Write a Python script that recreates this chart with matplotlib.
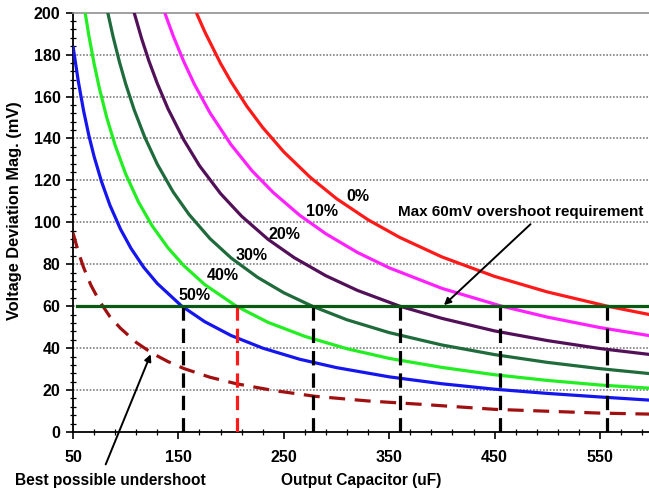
import numpy as np
import matplotlib
matplotlib.use('Agg')
import matplotlib.pyplot as plt
from matplotlib.ticker import MultipleLocator, FixedLocator

plt.rcParams['font.family'] = ['Liberation Sans', 'DejaVu Sans']
plt.rcParams['font.weight'] = 'bold'

# =================================================================
# ข้อมูลที่อ่านจากกราฟ (Output capacitor uF -> deviation mV)
# =================================================================
c_0 = [167, 175, 190, 200, 215, 230, 250, 275, 300, 330, 360, 400, 450, 500, 557, 600]
v_0 = [200, 190.9, 175.8, 167, 155.3, 145.2, 133.6, 121.5, 111.3, 101.2, 92.8, 83.5, 74.2, 66.8, 60.0, 55.7]

c_10 = [137, 145, 155, 165, 180, 200, 220, 240, 265, 290, 320, 350, 400, 456, 500, 550, 600]
v_10 = [200, 189, 176.8, 166, 152.2, 137, 124.5, 114.2, 103.4, 94.5, 85.6, 78.3, 68.5, 60.1, 54.8, 49.8, 45.7]

c_20 = [108, 115, 122, 130, 140, 155, 170, 190, 210, 235, 260, 290, 320, 360, 400, 450, 500, 550, 600]
v_20 = [200, 187.8, 177, 166.2, 154.3, 139.4, 127, 113.7, 102.9, 91.9, 83.1, 74.5, 67.5, 60, 54.2, 48.2, 43.6, 39.8, 36.8]

c_30 = [83, 88, 94, 100, 108, 118, 130, 145, 160, 180, 200, 225, 250, 277, 310, 350, 400, 450, 500, 550, 600]
v_30 = [200, 188.6, 176.6, 166, 153.7, 140.7, 127.7, 114.5, 103.8, 92.2, 83, 73.8, 66.4, 60, 53.5, 47.4, 41.5, 36.9, 33.2, 30.2, 27.7]

c_40 = [61.5, 65, 70, 75, 82, 90, 100, 112, 125, 140, 155, 175, 205, 235, 270, 310, 350, 400, 450, 500, 550, 600]
v_40 = [200, 189.2, 175.7, 164, 150, 136.7, 123, 109.8, 98.4, 87.9, 79.4, 70.3, 60, 52.3, 45.6, 39.7, 35.1, 30.8, 27.3, 24.6, 22.4, 20.8]

c_50 = [50, 55, 60, 65, 70, 77, 85, 95, 105, 117, 130, 153, 175, 200, 230, 265, 300, 350, 400, 450, 500, 550, 600]
v_50 = [184, 167.3, 153.3, 141.5, 131.4, 119.5, 108.2, 96.8, 87.6, 78.6, 70.8, 60.1, 52.6, 46, 40, 34.7, 30.7, 26.3, 23, 20.4, 18.4, 16.7, 15.1]

c_under = [50, 55, 60, 67, 75, 85, 95, 110, 125, 140, 155, 180, 205, 240, 280, 330, 380, 450, 500, 550, 600]
v_under = [95, 86, 78.5, 70, 62.5, 55, 49.5, 42.7, 37.6, 33.6, 30.3, 26.1, 23, 19.8, 17, 14.8, 13.2, 10.8, 9.9, 9.0, 8.5]

curve_labels = ['0%', '10%', '20%', '30%', '40%', '50%']
label_x = [320, 286, 251, 219.5, 192, 165.7]
label_y = [112.5, 105, 94.4, 84.4, 74.4, 65.3]

limit_mv = 60
cross_black = [154, 278, 360, 455, 557]
cross_red = 206

curves = [(c_0, v_0, '#ff1a1a'), (c_10, v_10, '#ff22ff'), (c_20, v_20, '#521058'),
          (c_30, v_30, '#1f6b3c'), (c_40, v_40, '#22ee22'), (c_50, v_50, '#1515ee')]

# =================================================================
# วาดกราฟ
# =================================================================
fig = plt.figure(figsize=(6.49, 4.91), dpi=100)
ax = fig.add_axes([0.1125, 0.1202, 0.8875, 0.854])

# เส้นกริดแนวนอนแบบจุด
for gy in range(20, 200, 20):
    ax.axhline(gy, color='#808080', lw=1.2, ls=(0, (1, 1)), zorder=1)

for cx, cy, col in curves:
    ax.plot(cx, cy, color=col, lw=2.3, zorder=3, solid_capstyle='butt')

ax.plot(c_under, v_under, color='#a01010', lw=2.3, dashes=(5, 3), zorder=3)

# เส้นแนวตั้งจุดตัดที่ 60mV
ax.vlines(cross_black, 0, limit_mv, colors='black', lw=2.3, linestyles=(0, (4.5, 2.5)), zorder=4)
ax.vlines([cross_red], 0, limit_mv, colors='#ff1a1a', lw=2.3, linestyles=(0, (4.5, 2.5)), zorder=4)

ax.plot([53.5, 600], [limit_mv, limit_mv], color='#0b5a14', lw=2.3, zorder=5)

for lab, lx, ly in zip(curve_labels, label_x, label_y):
    ax.text(lx, ly, lab, fontsize=11.5, fontweight='bold', ha='center', va='center', zorder=6)

ax.text(358, 105, 'Max 60mV overshoot requirement', fontsize=11, fontweight='bold',
        ha='left', va='center', zorder=6)
ax.annotate('', xy=(400, 59.6), xytext=(486, 100),
            arrowprops=dict(arrowstyle='-|>', color='black', lw=1.4, mutation_scale=10), zorder=6)
ax.annotate('', xy=(124.7, 38.3), xytext=(80, -16.7), annotation_clip=False,
            arrowprops=dict(arrowstyle='-|>', color='black', lw=1.4, mutation_scale=10), zorder=6)

fig.text(110 / 649, 1 - 480 / 491, 'Best possible undershoot', fontsize=11.2, fontweight='bold',
         ha='center', va='center')
fig.text(361 / 649, 1 - 480 / 491, 'Output Capacitor (uF)', fontsize=11.2, fontweight='bold',
         ha='center', va='center')
fig.text(15 / 649, 1 - 211 / 491, 'Voltage Deviation Mag. (mV)', fontsize=11.8, fontweight='bold',
         rotation=90, ha='center', va='center')

# แกนและขีด
ax.set_xlim(50, 596.5)
ax.set_ylim(0, 200)
ax.xaxis.set_major_locator(FixedLocator([50, 150, 250, 350, 450, 550]))
ax.xaxis.set_minor_locator(MultipleLocator(20, offset=10))
ax.yaxis.set_major_locator(MultipleLocator(20))
ax.yaxis.set_minor_locator(MultipleLocator(4))
ax.tick_params(axis='both', which='major', direction='out', length=5, width=1.2, labelsize=11.5)
ax.tick_params(axis='both', which='minor', direction='inout', length=4, width=0.9)
ax.tick_params(axis='x', which='major', pad=8)
ax.tick_params(axis='y', which='major', pad=4)
for lab in ax.get_xticklabels() + ax.get_yticklabels():
    lab.set_fontweight('bold')

ax.spines['right'].set_visible(False)
ax.spines['top'].set_color('#909090')
ax.spines['top'].set_linewidth(1.2)
ax.spines['left'].set_linewidth(1.3)
ax.spines['bottom'].set_linewidth(1.3)

fig.savefig('out.png', dpi=100)
